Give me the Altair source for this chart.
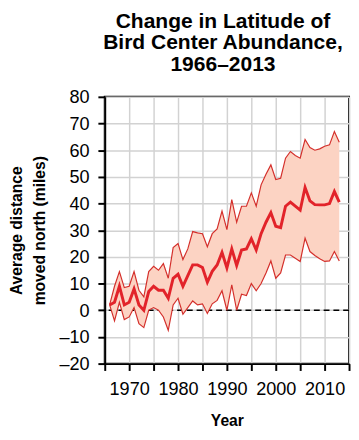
import altair as alt
import pandas as pd

years = list(range(1966, 2014))
central = [2, 3, 9, 2, 3, 8, 2, 0, 7, 9, 7.5, 7.5, 4.5, 12, 13.5, 9, 13, 17, 17, 16,
           10.5, 14.6, 17, 21.7, 15.9, 23, 16.8, 22.6, 23, 26.8, 22.6, 28.7, 33, 36.6, 31.5, 31,
           39, 40.5, 39, 37.5, 46, 41, 39.6, 39.5, 39.5, 40, 44.5, 40.5]
upper = [2, 9, 14.5, 8.5, 9, 14.5, 7.5, 5, 14.5, 16.5, 15, 17.5, 12, 23.5, 25, 19, 23, 29.5, 29, 28.7,
         23.8, 28.7, 30.5, 37.2, 30.2, 41.5, 33, 39, 39, 44, 39, 47, 51, 54.5, 49, 49.5,
         57, 59.5, 58, 57, 64, 61, 60, 60.5, 61.5, 62, 67, 63]
lower = [2, -4, 3, -3.5, -2.5, 1, -5, -6.5, 0, 1, 0, -2.5, -7.5, 2, 4.5, -1.5, 1, 3.5, 2, 2.4,
         -1.2, 2.4, 3.7, 7.3, 0, 9.5, 0, 6, 5.5, 10, 7.3, 10, 14, 18.5, 12, 14,
         20.7, 20.7, 19.5, 18.3, 27, 22, 20.5, 19.3, 18.3, 18.5, 22, 18.5]

x_ticks = list(range(1965, 2016, 5))
y_ticks = list(range(-20, 81, 10))

df = pd.DataFrame({"year": years, "central": central, "upper": upper, "lower": lower})
zero_df = pd.DataFrame({"y": [0]})

FONT = "Liberation Sans"

x_enc = alt.X(
    "year:Q",
    scale=alt.Scale(domain=[1965, 2015], nice=False, zero=False),
    axis=alt.Axis(
        values=x_ticks,
        tickCount=len(x_ticks),
        format="d",
        labelExpr="(datum.value % 10 == 0 && datum.value > 1965 && datum.value < 2015) ? datum.label : ''",
        labelOverlap=False,
        title="Year",
        titleFontSize=16,
        titleFontWeight="bold",
        titlePadding=15,
        labelFontSize=18.5,
        labelPadding=10,
    ),
)

y_scale = alt.Scale(domain=[-20, 80], nice=False)

base = alt.Chart(df)

rule = alt.Chart(zero_df).mark_rule(color="black", strokeWidth=1.6, strokeDash=[6, 4]).encode(
    y=alt.Y("y:Q", scale=y_scale)
)

band = base.mark_area(color="#fcd3c3", opacity=1).encode(
    x=x_enc,
    y=alt.Y(
        "lower:Q",
        scale=y_scale,
        axis=alt.Axis(
            values=y_ticks,
            tickCount=len(y_ticks),
            labelExpr="datum.value < 0 ? '\u2013' + abs(datum.value) : datum.label",
            labelOverlap=False,
            title=["Average distance", "moved north (miles)"],
            titleFontSize=16,
            titleFontWeight="bold",
            titleLineHeight=23,
            titlePadding=12,
            labelFontSize=18.5,
            labelPadding=9,
        ),
    ),
    y2="upper:Q",
)

up_line = base.mark_line(color="#d42f2b", strokeWidth=1.2).encode(x="year:Q", y="upper:Q")
lo_line = base.mark_line(color="#d42f2b", strokeWidth=1.2).encode(x="year:Q", y="lower:Q")
mid_line = base.mark_line(color="#e2232a", strokeWidth=3).encode(x="year:Q", y="central:Q")

chart = (
    alt.layer(rule, band, up_line, lo_line, mid_line)
    .properties(
        width=250,
        height=273,
        autosize=alt.AutoSizeParams(type="none"),
        padding={"left": 99, "top": 86, "right": 2, "bottom": 62},
        title=alt.TitleParams(
            text=["Change in Latitude of", "Bird Center Abundance,", "1966\u20132013"],
            fontSize=21.5,
            fontWeight="bold",
            font=FONT,
            lineHeight=22,
            anchor="middle",
            offset=13,
            dx=-4,
            color="black",
        ),
    )
    .configure(font=FONT)
    .configure_view(stroke="black", strokeWidth=2)
    .configure_axis(
        domainColor="black",
        domainWidth=2,
        tickColor="black",
        tickWidth=2,
        tickSize=7,
        gridColor="#d2d2d2",
        gridWidth=1.5,
        labelColor="black",
        titleColor="black",
        labelFont=FONT,
        titleFont=FONT,
    )
)

chart.save("out.html", embed_options={"renderer": "svg", "actions": False})
